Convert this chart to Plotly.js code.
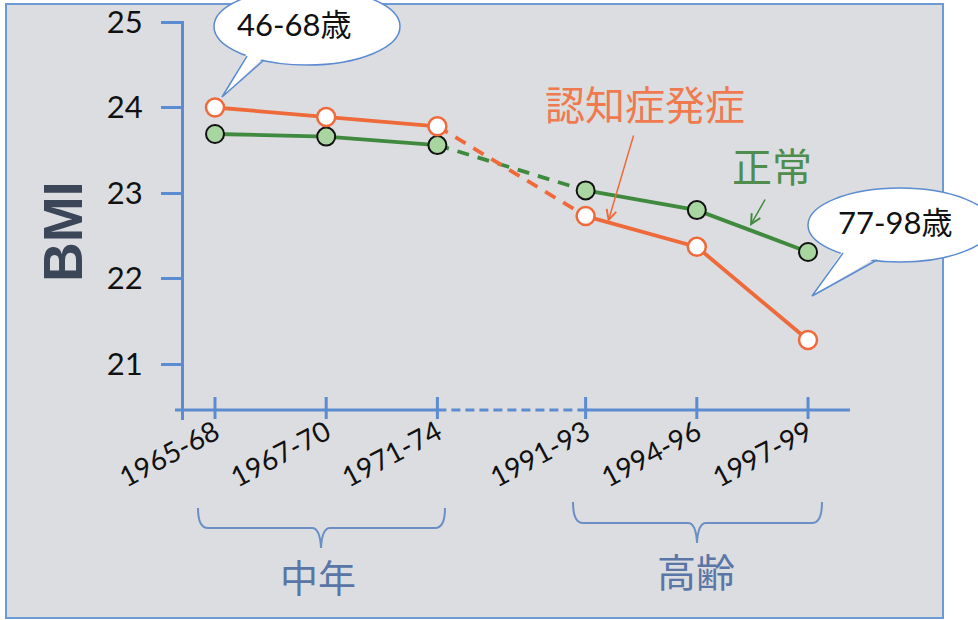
<!DOCTYPE html>
<html><head><meta charset="utf-8">
<script src="https://cdn.plot.ly/plotly-3.0.1.min.js"></script>
<style>html,body{margin:0;padding:0;background:#fff}#chart{width:978px;height:620px}</style>
</head><body><div id="chart"></div>
<script>
// ---- data ----
const periods = ['1965-68', '1967-70', '1971-74', '1991-93', '1994-96', '1997-99'];
const dementiaBMI = [24.00, 23.89, 23.78, 22.73, 22.37, 21.28];
const normalBMI = [23.69, 23.66, 23.56, 23.03, 22.80, 22.31];
const yTicks = [21, 22, 23, 24, 25];
const seriesNames = ['認知症発症', '正常'];
const groupLabels = ['中年', '高齢'];
const ageLabels = ['46-68歳', '77-98歳'];
const yTitle = 'BMI';
const BREAK_AFTER = 2; // last mid-life survey index

// ---- layout helpers ----
const W = 978, H = 620;
const px = x => x / W;
const py = y => 1 - y / H;
const GAP = 0.333;
const xPos = periods.map((_, i) => i + (i > BREAK_AFTER ? GAP : 0));
const xAt = p => (p - 215) / 111.2;
const yAt = p => 24 - (p - 107.5) / 85.5;

const BLUE = '#5b8bd0';
const ORANGE = '#ef6a3a';
const GREEN = '#3f8a3f';
const CJK = 'Noto Sans CJK JP';
const NUM = 'Lato, Noto Sans CJK JP';

const early = periods.map((_, i) => i).filter(i => i <= BREAK_AFTER);
const late = periods.map((_, i) => i).filter(i => i > BREAK_AFTER);
const bridge = [BREAK_AFTER, BREAK_AFTER + 1];

function lineTrace(idx, vals, color, dash) {
  return {x: idx.map(i => xPos[i]), y: idx.map(i => vals[i]), mode: 'lines',
    line: {color: color, width: 3.8, dash: dash}, hoverinfo: 'skip', showlegend: false};
}
const traces = [];
[[normalBMI, GREEN], [dementiaBMI, ORANGE]].forEach(([v, c]) => {
  traces.push(lineTrace(early, v, c, 'solid'));
  traces.push(lineTrace(late, v, c, 'solid'));
  traces.push(lineTrace(bridge, v, c, '12px,9px'));
});
traces.push({x: xPos, y: normalBMI, mode: 'markers', name: seriesNames[1], showlegend: false,
  marker: {size: 18, color: '#a9d5a0', line: {color: '#111', width: 2}}});
traces.push({x: xPos, y: dementiaBMI, mode: 'markers', name: seriesNames[0], showlegend: false,
  marker: {size: 18, color: '#ffffff', line: {color: ORANGE, width: 2.5}}});

// ---- shapes ----
const shapes = [];
shapes.push({type: 'rect', xref: 'paper', yref: 'paper', x0: px(6), x1: px(943), y0: py(618), y1: py(4),
  fillcolor: '#dcdde0', line: {color: '#6c9bd2', width: 2}, layer: 'below'});
const xr = [xAt(175), xAt(850)];
shapes.push({type: 'line', xref: 'x', yref: 'paper', x0: xr[0], x1: xPos[BREAK_AFTER], y0: py(410), y1: py(410), line: {color: BLUE, width: 3}, layer: 'below'});
shapes.push({type: 'line', xref: 'x', yref: 'paper', x0: xPos[BREAK_AFTER], x1: xPos[BREAK_AFTER + 1], y0: py(410), y1: py(410), line: {color: BLUE, width: 3, dash: '9px,5px'}, layer: 'below'});
shapes.push({type: 'line', xref: 'x', yref: 'paper', x0: xPos[BREAK_AFTER + 1], x1: xr[1], y0: py(410), y1: py(410), line: {color: BLUE, width: 3}, layer: 'below'});
xPos.forEach(x => shapes.push({type: 'line', xref: 'x', yref: 'paper', x0: x, x1: x, y0: py(397), y1: py(419), line: {color: BLUE, width: 3}, layer: 'below'}));

function brace(l, r, top, mid, c, bot) {
  return 'M ' + px(l) + ',' + py(top) +
    ' Q ' + px(l) + ',' + py(mid) + ' ' + px(l + 10) + ',' + py(mid) +
    ' L ' + px(c - 9) + ',' + py(mid) +
    ' Q ' + px(c - 1) + ',' + py(mid) + ' ' + px(c) + ',' + py(bot) +
    ' Q ' + px(c + 1) + ',' + py(mid) + ' ' + px(c + 9) + ',' + py(mid) +
    ' L ' + px(r - 10) + ',' + py(mid) +
    ' Q ' + px(r) + ',' + py(mid) + ' ' + px(r) + ',' + py(top);
}
shapes.push({type: 'path', xref: 'paper', yref: 'paper', path: brace(198, 445, 508, 528, 321, 548), line: {color: '#6a8fc4', width: 2}, fillcolor: 'rgba(0,0,0,0)'});
shapes.push({type: 'path', xref: 'paper', yref: 'paper', path: brace(573, 822, 502, 523, 697, 543), line: {color: '#6a8fc4', width: 2}, fillcolor: 'rgba(0,0,0,0)'});

function bubble(x0, x1, y0, y1, b1, tip, b2) {
  shapes.push({type: 'circle', xref: 'paper', yref: 'paper', x0: px(x0), x1: px(x1), y0: py(y1), y1: py(y0),
    fillcolor: '#ffffff', line: {color: BLUE, width: 1.5}});
  shapes.push({type: 'path', xref: 'paper', yref: 'paper',
    path: 'M ' + px(b1[0]) + ',' + py(b1[1] - 3) + ' L ' + px(tip[0]) + ',' + py(tip[1]) + ' L ' + px(b2[0]) + ',' + py(b2[1] - 3) + ' Z',
    fillcolor: '#ffffff', line: {width: 0}});
  shapes.push({type: 'path', xref: 'paper', yref: 'paper',
    path: 'M ' + px(b1[0]) + ',' + py(b1[1]) + ' L ' + px(tip[0]) + ',' + py(tip[1]) + ' L ' + px(b2[0]) + ',' + py(b2[1]),
    fillcolor: 'rgba(0,0,0,0)', line: {color: BLUE, width: 1.5}});
}
bubble(214, 400, -12, 65, [247, 56], [222, 97], [264, 60]);
bubble(808, 992, 188, 262, [843, 253], [812, 296], [877, 260]);

// ---- annotations ----
const annotations = [
  {text: yTitle, x: px(63), y: py(232), textangle: -90, font: {family: 'Liberation Sans, Arial', size: 55, weight: 'bold', color: '#3b4658'}},
  {text: seriesNames[0], x: px(645), y: py(103), font: {family: CJK, size: 40, color: '#f07a50'}},
  {text: seriesNames[1], x: px(772), y: py(165), font: {family: CJK, size: 40, color: '#4f8d4f'}},
  {text: groupLabels[0], x: px(318), y: py(575), font: {family: CJK, size: 38, color: '#5a76a6'}},
  {text: groupLabels[1], x: px(696), y: py(570), font: {family: CJK, size: 39, color: '#5a76a6'}},
  {text: ageLabels[0], x: px(294), y: py(24), font: {family: NUM, size: 31, color: '#111'}},
  {text: ageLabels[1], x: px(895), y: py(222), font: {family: NUM, size: 31, color: '#111'}},
].map(a => Object.assign({xref: 'paper', yref: 'paper', xanchor: 'center', yanchor: 'middle', showarrow: false}, a));
annotations.push({xref: 'paper', yref: 'paper', x: px(608), y: py(222), ax: 26, ay: -88, text: '', showarrow: true,
  arrowhead: 5, arrowsize: 1.3, arrowwidth: 1.5, arrowcolor: ORANGE});
annotations.push({xref: 'paper', yref: 'paper', x: px(750), y: py(226), ax: 16, ay: -28, text: '', showarrow: true,
  arrowhead: 5, arrowsize: 1.3, arrowwidth: 1.5, arrowcolor: GREEN});

const layout = {
  width: W, height: H, margin: {l: 0, r: 0, t: 0, b: 0},
  paper_bgcolor: '#ffffff', plot_bgcolor: 'rgba(0,0,0,0)', showlegend: false,
  xaxis: {domain: [px(175), px(850)], range: xr, anchor: 'free', position: py(410),
    tickmode: 'array', tickvals: xPos, ticktext: periods, tickangle: -28, ticks: '',
    showline: false, showgrid: false, zeroline: false, ticklabelstandoff: 0,
    tickfont: {family: NUM, size: 28, color: '#111'}},
  yaxis: {domain: [py(420), py(21)], range: [yAt(420), yAt(21)], anchor: 'free', position: px(182),
    tickmode: 'array', tickvals: yTicks, ticks: 'outside', ticklen: 20, tickwidth: 3, tickcolor: BLUE,
    showline: true, linecolor: BLUE, linewidth: 2.5, showgrid: false, zeroline: false,
    ticklabelstandoff: 12, tickfont: {family: NUM, size: 31, color: '#111'}},
  shapes: shapes, annotations: annotations
};
Plotly.newPlot('chart', traces, layout, {displayModeBar: false, staticPlot: true});
</script></body></html>
